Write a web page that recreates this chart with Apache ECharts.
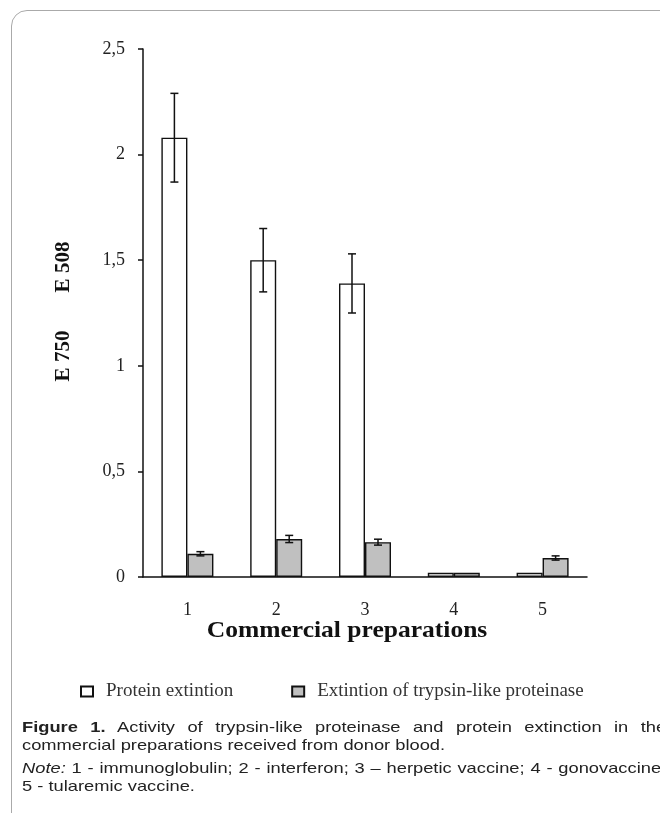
<!DOCTYPE html>
<html>
<head>
<meta charset="utf-8">
<script src="https://cdn.jsdelivr.net/npm/echarts@6/dist/echarts.min.js"></script>
<style>
  html, body { margin: 0; padding: 0; background: #fff; overflow: hidden; }
  #frame {
    position: absolute; left: 11px; top: 10px; width: 720px; height: 900px;
    border: 1.5px solid #aaa; border-radius: 16px;
  }
  #chart { position: absolute; left: 0; top: 0; width: 660px; height: 813px; }
  #cap {
    position: absolute; left: 22px; top: 718px; width: 528px;
    font-family: "Liberation Sans", Arial, sans-serif; font-size: 15px;
    line-height: 17.5px; color: #222; text-align: justify;
    transform: scaleX(1.22); transform-origin: 0 0;
  }
  #cap p { margin: 0 0 6px 0; }
</style>
</head>
<body>
<div id="frame"></div>
<div id="chart"></div>
<div id="cap">
  <p><b>Figure 1.</b> Activity of trypsin-like proteinase and protein extinction in the commercial preparations received from donor blood.</p>
  <p><i>Note:</i> 1 - immunoglobulin; 2 - interferon; 3 – herpetic vaccine; 4 - gonovaccine; 5 - tularemic vaccine.</p>
</div>
<script>
var categories = ['1', '2', '3', '4', '5']
var proteinExt = [2.08, 1.50, 1.39, 0.02, 0.02]
var proteinErr = [0.21, 0.15, 0.14, 0, 0]
var trypsinExt = [0.11, 0.18, 0.165, 0.02, 0.09]
var trypsinErr = [0.01, 0.017, 0.014, 0, 0.01]
var yTicks = [0, 0.5, 1, 1.5, 2, 2.5]

var serif = '"Liberation Serif", "Times New Roman", serif'
var chart = echarts.init(document.getElementById('chart'))
var bw = 26 // bar width

// error bar series, shift = which side of the category centre
function errSeries(vals, errs, shift) {
  var data = vals.map(function (v, i) { return [i, v, errs[i]] }).filter(function (d) { return d[2] > 0 })
  return {
    type: 'custom',
    z: 5,
    data: data,
    renderItem: function (params, api) {
      var c = api.coord([api.value(0), api.value(1)])
      var x = c[0] + shift * bw / 2
      var top = api.coord([api.value(0), api.value(1) + api.value(2)])[1]
      var bot = api.coord([api.value(0), api.value(1) - api.value(2)])[1]
      var st = { stroke: '#111', lineWidth: 1.5 }
      return {
        type: 'group',
        children: [
          { type: 'line', shape: { x1: x, y1: top, x2: x, y2: bot }, style: st },
          { type: 'line', shape: { x1: x - 4, y1: top, x2: x + 4, y2: top }, style: st },
          { type: 'line', shape: { x1: x - 4, y1: bot, x2: x + 4, y2: bot }, style: st }
        ]
      }
    }
  }
}

var option = {
  animation: false,
  grid: { left: 143, right: 73, top: 49, bottom: 236 },
  legend: {
    data: ['Protein extintion', 'Extintion of trypsin-like proteinase'],
    left: 80, top: 682, padding: 0,
    icon: 'rect', itemWidth: 12, itemHeight: 10, itemGap: 58,
    textStyle: { fontFamily: serif, fontSize: 19, color: '#333', padding: [0, 0, 0, 8] }
  },
  xAxis: {
    type: 'category',
    data: categories,
    axisLine: { lineStyle: { color: '#111', width: 1.5 } },
    axisTick: { length: 6, lineStyle: { color: '#111', width: 1.5 } },
    axisLabel: { margin: 24, fontFamily: serif, fontSize: 18, color: '#222' }
  },
  yAxis: {
    type: 'value',
    min: 0, max: 2.5, interval: 0.5,
    splitLine: { show: false },
    axisLine: { show: true, lineStyle: { color: '#111', width: 1.5 } },
    axisTick: { show: true, length: 5, lineStyle: { color: '#111', width: 1.5 } },
    axisLabel: {
      margin: 18, fontFamily: serif, fontSize: 18, color: '#222',
      formatter: function (v) { return String(v).replace('.', ',') }
    }
  },
  graphic: [
    { type: 'text', x: 347, y: 631, scaleX: 1.11, style: { text: 'Commercial preparations', font: 'bold 23px ' + serif, fill: '#111', align: 'center', verticalAlign: 'middle' } },
    { type: 'text', x: 64, y: 356, rotation: Math.PI / 2, style: { text: 'E 750', font: 'bold 21px ' + serif, fill: '#111', align: 'center', verticalAlign: 'middle' } },
    { type: 'text', x: 64, y: 267, rotation: Math.PI / 2, style: { text: 'E 508', font: 'bold 21px ' + serif, fill: '#111', align: 'center', verticalAlign: 'middle' } }
  ],
  series: [
    {
      name: 'Protein extintion', type: 'bar', data: proteinExt,
      barWidth: bw, barGap: '0%',
      itemStyle: { color: '#fff', borderColor: '#111', borderWidth: 1.4 }
    },
    {
      name: 'Extintion of trypsin-like proteinase', type: 'bar', data: trypsinExt,
      barWidth: bw, barGap: '0%',
      itemStyle: { color: '#c0c0c0', borderColor: '#111', borderWidth: 1.4 }
    },
    errSeries(proteinExt, proteinErr, -1),
    errSeries(trypsinExt, trypsinErr, 1)
  ]
}
chart.setOption(option)
</script>
</body>
</html>
